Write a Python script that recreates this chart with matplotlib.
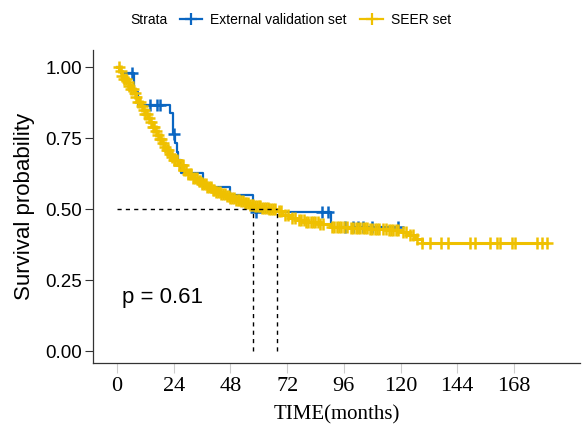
import numpy as np
import matplotlib
matplotlib.use("Agg")
import matplotlib.pyplot as plt
from matplotlib.lines import Line2D

# External validation set (Kaplan-Meier steps)
ext_time = [0, 1.5, 7, 9, 22.4, 23.6, 24.5, 25.5, 26, 27, 36.4, 47.8, 57.7, 90.5]
ext_surv = [1.0, 0.978, 0.913, 0.868, 0.838, 0.764, 0.732, 0.70, 0.672, 0.627, 0.578, 0.549, 0.49, 0.437]
ext_end = 119
ext_cens = [6.2, 14, 16.8, 18.2, 24, 59, 86.8, 89.5, 96.5, 100, 102, 104, 108, 119]

# SEER set
seer_time = [0, 1, 2, 3, 4, 5, 6, 7, 8, 9, 10, 11, 12, 13, 14, 15, 16, 17, 18, 19, 20,
             21, 22, 23, 24, 26, 28, 30, 32, 34, 36, 38, 40, 42, 44, 46, 48, 50, 52, 54,
             56, 58, 61, 64, 67.7, 70, 73, 76, 80, 86, 90, 98, 107, 115, 120, 123, 126, 129]
seer_surv = [1.0, 0.985, 0.97, 0.958, 0.947, 0.935, 0.922, 0.908, 0.893, 0.878, 0.864,
             0.85, 0.836, 0.821, 0.806, 0.79, 0.775, 0.76, 0.745, 0.732, 0.72, 0.707,
             0.695, 0.684, 0.673, 0.655, 0.638, 0.623, 0.61, 0.598, 0.587, 0.577, 0.568,
             0.56, 0.552, 0.545, 0.539, 0.533, 0.527, 0.521, 0.515, 0.51, 0.505, 0.501,
             0.492, 0.48, 0.468, 0.46, 0.453, 0.447, 0.437, 0.433, 0.43, 0.427, 0.418,
             0.408, 0.396, 0.382]
seer_end = 182
seer_cens = [0.8, 1.5, 2.2, 3, 3.7, 4.5, 5.2, 6, 6.7, 7.5, 8.2, 9, 9.7, 10.5, 11.2, 12,
             12.7, 13.5, 14.2, 15, 15.7, 16.5, 17.2, 18, 18.7, 19.5, 20.2, 21, 21.7,
             22.5, 23.2, 24, 24.7, 25.5, 26.2, 27, 27.7, 28.5, 29.2, 30, 30.7, 31.5,
             32.2, 33, 33.7, 34.5, 35.2, 36, 36.7, 37.5, 38.2, 39, 39.7, 40.5, 41.2, 42,
             42.7, 43.5, 44.2, 45, 45.7, 46.5, 47.2, 48, 48.7, 49.5, 50.2, 51, 51.7,
             52.5, 53.2, 54, 54.7, 55.5, 56.2, 57, 57.7, 58.5, 59.2, 60, 60.7, 61.5, 62.2,
             63, 63.7, 64.5, 65.2, 66, 67, 68.5, 69.5, 71, 72.5, 74, 75.5, 77, 78,
             79, 80, 81, 82, 83, 84, 85, 86, 87, 91, 92, 93, 94, 95, 96, 97.5, 99, 100,
             101, 102, 103, 104, 105, 106, 107, 108, 109, 110, 111, 112.5, 114, 115,
             116, 117, 118, 119, 121, 122.5, 124, 125.5, 127, 129, 132.5, 137, 140,
             149.4, 151.5, 158, 161, 162, 167, 168.6, 178, 180, 182]

medians = [57.7, 67.7]
xticks = [0, 24, 48, 72, 96, 120, 144, 168]
yticks = [0, 0.25, 0.5, 0.75, 1.0]

blue = "#0a66c2"
yellow = "#efc000"
sans = "Liberation Sans"
serif = "Liberation Serif"


def surv_at(times, surv, c):
    idx = np.searchsorted(times, c, side="right") - 1
    return np.array(surv)[idx]


fig = plt.figure(figsize=(5.84, 4.25), dpi=100)
ax = fig.add_axes([93 / 584, 1 - 363 / 425, 487 / 584, 313 / 425])

for times, surv, end, cens, col, lw, ms in [
        (ext_time, ext_surv, ext_end, ext_cens, blue, 1.6, 8),
        (seer_time, seer_surv, seer_end, seer_cens, yellow, 2.2, 9)]:
    ax.step(times + [end], surv + [surv[-1]], where="post", color=col, lw=lw)
    ax.plot(cens, surv_at(times, surv, cens), ls="none", marker="+",
            ms=ms, mew=1.8, color=col)

# median lines
ax.plot([0, max(medians)], [0.5, 0.5], ls=(0, (3, 3)), color="black", lw=1)
for m in medians:
    ax.plot([m, m], [0, 0.5], ls=(0, (3, 3)), color="black", lw=1)

ax.text(2, 0.19, "p = 0.61", fontsize=16, family=sans, va="center")

ax.set_xlim(-10.2, 196)
ax.set_ylim(-0.042, 1.06)
ax.set_xticks(xticks)
ax.set_yticks(yticks)
ax.set_xticklabels([str(v) for v in xticks], family=serif, fontsize=16)
ax.set_yticklabels(["%.2f" % v for v in yticks], family=sans, fontsize=13.5)
ax.tick_params(axis="x", length=7, color="#cccccc", pad=3)
ax.tick_params(axis="y", length=6, color="#333333", pad=2)
ax.set_xlabel("TIME(months)", family=serif, fontsize=15, labelpad=7)
ax.set_ylabel("Survival probability", family=sans, fontsize=16, labelpad=7)
for side in ["top", "right"]:
    ax.spines[side].set_visible(False)
for side in ["left", "bottom"]:
    ax.spines[side].set_color("#333333")
    ax.spines[side].set_linewidth(0.9)

fig.text(130 / 584, 1 - 20 / 425, "Strata", family=sans, fontsize=10, va="center")
handles = [Line2D([], [], color=blue, marker="+", ms=8, mew=1.6, lw=1.6),
           Line2D([], [], color=yellow, marker="+", ms=8, mew=1.6, lw=1.6)]
fig.legend(handles, ["External validation set", "SEER set"], ncol=2,
           loc="center left", bbox_to_anchor=(167 / 584, 1 - 20 / 425),
           frameon=False, prop={"family": sans, "size": 10},
           handlelength=1.6, handletextpad=0.6, columnspacing=1.0)

fig.savefig("out.png", dpi=100)
